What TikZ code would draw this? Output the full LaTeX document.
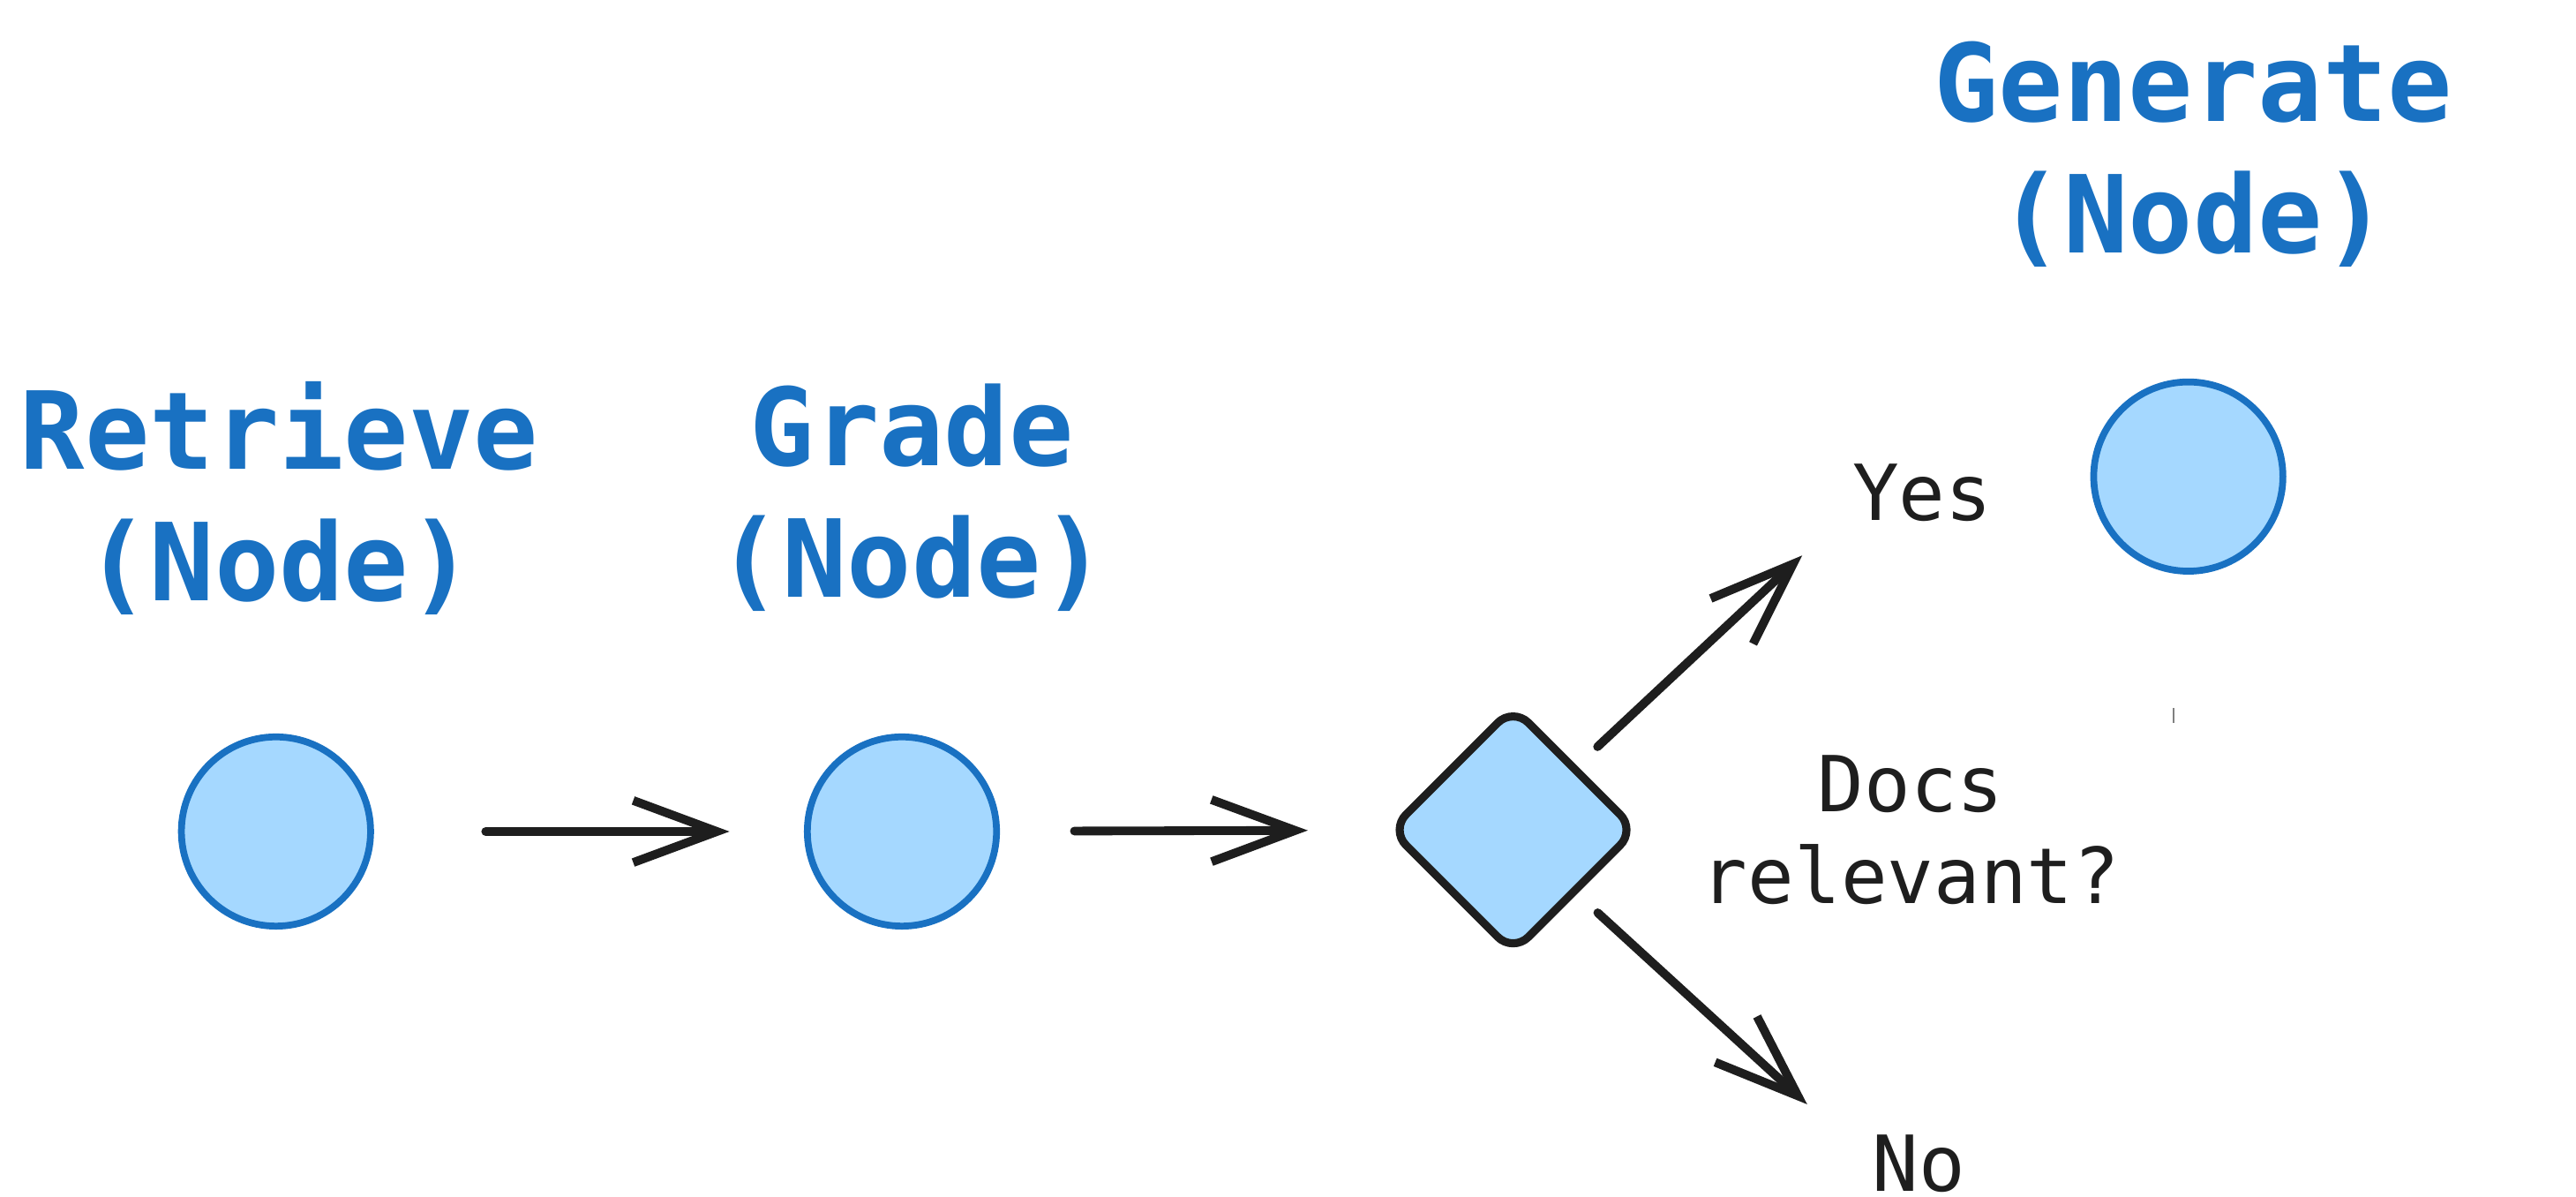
\documentclass[tikz,border=0pt]{standalone}
\usepackage{fontspec}
\setmonofont{DejaVu Sans Mono}
\usetikzlibrary{arrows.meta,shapes.geometric}
\definecolor{nodeblue}{HTML}{1971C2}
\definecolor{nodefill}{HTML}{A5D8FF}
\definecolor{ink}{HTML}{1E1E1E}

\begin{document}
\begin{tikzpicture}[x=0.18616mm,y=-0.18616mm,
    state/.style={circle,draw=nodeblue,fill=nodefill,line width=2.2pt,
        minimum size=61pt,inner sep=0pt},
    check/.style={diamond,draw=ink,fill=nodefill,line width=2.6pt,
        minimum size=80pt,inner sep=0pt,rounded corners=7pt},
    title/.style={text=nodeblue,align=center,
        font=\ttfamily\bfseries\fontsize{34.7}{42.4}\selectfont},
    note/.style={text=ink,align=center,
        font=\ttfamily\fontsize{24.9}{29.7}\selectfont},
    flow/.style={draw=ink,line width=2.8pt,line cap=round,
        -{Straight Barb[length=27pt,width=20pt,line width=2.8pt]}}]
    \useasboundingbox (0,0) rectangle (1568,728);
    % Draw the nodes
    \node[state] (retrieve) at (168,506) {};
    \node[state] (grade) at (549,506) {};
    \node[state] (generate) at (1332,290) {};
    \node[check] (decide) at (921,505) {};
    % Label the nodes
    \node[title] (retrievelabel) at (170,303) {Retrieve\\(Node)};
    \node[title] (gradelabel) at (555,303) {Grade\\(Node)};
    \node[title] (generatelabel) at (1335,94) {Generate\\(Node)};
    % Label the decision
    \node[note] (question) at (1163,505) {Docs\\relevant?};
    \node[note] (yes) at (1170,300) {Yes};
    \node[note] (no) at (1168,708) {No};
    % Draw the flow
    \draw[flow,shorten <=36pt,shorten >=24pt] (retrieve) -- (grade);
    \draw[flow,shorten <=24pt,shorten >=25pt] (grade) -- (decide);
    % Draw the branches
    \coordinate (yestip) at (1097,338);
    \coordinate (notip) at (1100,672);
    \draw[flow,shorten <=9pt] (decide.north east) -- (yestip);
    \draw[flow,shorten <=9pt] (decide.south east) -- (notip);
    % Stray mark
    \draw[gray,line width=0.8pt] (1323,431) -- (1323,440);
\end{tikzpicture}
\end{document}
